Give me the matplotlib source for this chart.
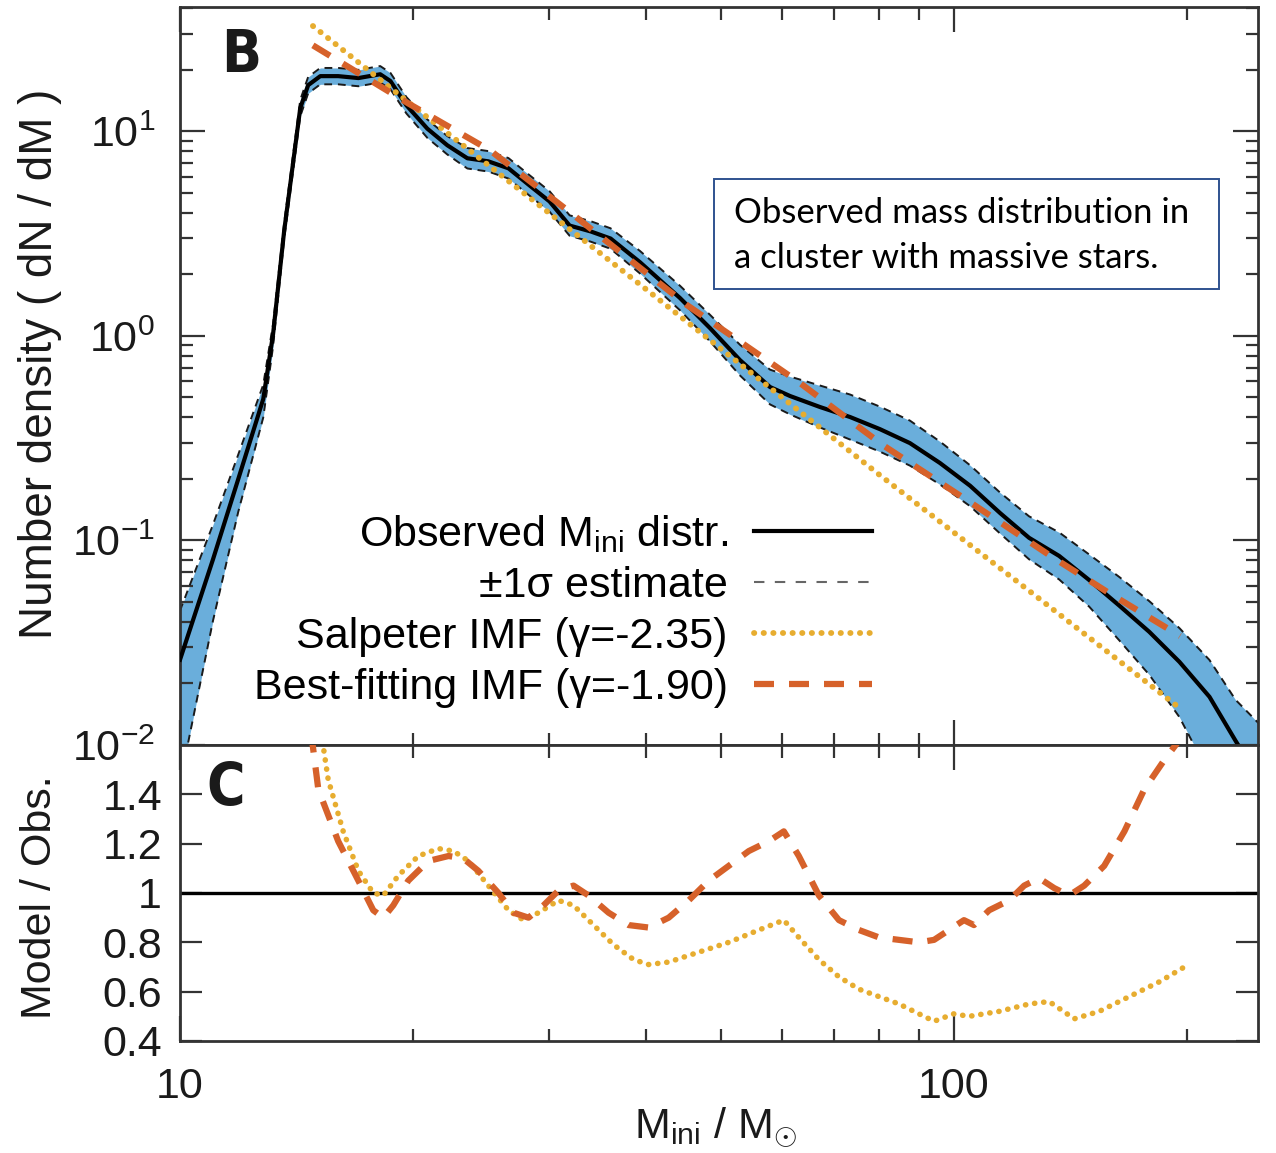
import numpy as np
import matplotlib
matplotlib.use("Agg")
import matplotlib.pyplot as plt
from matplotlib.ticker import LogLocator, NullFormatter, FixedLocator, FixedFormatter
from matplotlib.lines import Line2D
from matplotlib.patches import Rectangle

plt.rcParams['font.family'] = ['Liberation Sans', 'DejaVu Sans']
plt.rcParams['mathtext.fontset'] = 'custom'
plt.rcParams['mathtext.rm'] = 'Liberation Sans'
plt.rcParams['mathtext.it'] = 'Liberation Sans:italic'
plt.rcParams['mathtext.bf'] = 'Liberation Sans:bold'

# ---------------- data ----------------
mass_obs = [10.0, 11.03, 11.89, 12.81, 13.19, 13.63, 14.30, 14.64, 15.18, 16.01,
            17.00, 18.14, 18.70, 19.61, 20.87, 22.15, 23.51, 25.02, 26.57, 28.28,
            30.02, 31.87, 33.92, 36.00, 39.29, 44.26, 48.40, 52.90, 57.85, 61.40,
            67.10, 73.40, 80.20, 87.70, 95.90, 104.9, 114.7, 125.0, 136.7, 149.5,
            163.5, 178.8, 195.5, 213.8, 231.0, 248.0]
dens_obs = [0.0261, 0.0807, 0.199, 0.491, 1.02, 3.24, 12.97, 16.8, 18.6, 18.6,
            18.2, 19.0, 17.6, 13.4, 10.3, 8.54, 7.38, 7.13, 6.59, 5.44,
            4.54, 3.46, 3.24, 2.99, 2.29, 1.53, 1.09, 0.761, 0.562, 0.508,
            0.449, 0.401, 0.350, 0.299, 0.239, 0.185, 0.136, 0.103, 0.084, 0.064,
            0.048, 0.0357, 0.0255, 0.0172, 0.0105, 0.0068]
# +/- 1 sigma band, in dex above / below the observed curve
sig_up_dex = [0.24, 0.17, 0.12, 0.07, 0.05, 0.04, 0.04, 0.04, 0.04, 0.04,
              0.04, 0.04, 0.04, 0.04, 0.045, 0.045, 0.05, 0.05, 0.05, 0.05,
              0.05, 0.05, 0.05, 0.05, 0.055, 0.06, 0.065, 0.075, 0.085, 0.095,
              0.105, 0.11, 0.11, 0.11, 0.105, 0.10, 0.10, 0.105, 0.115, 0.125,
              0.14, 0.15, 0.165, 0.18, 0.20, 0.27]
sig_dn_dex = [0.60, 0.30, 0.16, 0.09, 0.06, 0.04, 0.04, 0.04, 0.04, 0.04,
              0.04, 0.04, 0.04, 0.04, 0.045, 0.045, 0.05, 0.05, 0.05, 0.05,
              0.05, 0.05, 0.05, 0.05, 0.055, 0.06, 0.065, 0.075, 0.085, 0.09,
              0.10, 0.11, 0.11, 0.11, 0.105, 0.10, 0.10, 0.105, 0.115, 0.13,
              0.17, 0.21, 0.27, 0.38, 0.60, 0.80]

mass_salp = [14.85, 20.0, 40.0, 80.0, 120.0, 195.5]
dens_salp = [32.7, 13.3, 1.69, 0.210, 0.0640, 0.0152]

mass_best = [14.85, 19.71, 25.15, 32.01, 45.19, 63.24, 80.96, 103.9, 133.9, 158.6, 195.9]
dens_best = [26.3, 13.7, 8.07, 3.98, 1.413, 0.588, 0.292, 0.1574, 0.0830, 0.0553, 0.0341]

mass_rat_best = [14.77, 15.09, 16.01, 17.00, 17.77, 18.31, 18.86, 19.72, 20.94, 22.23,
                 23.23, 24.29, 25.79, 26.97, 28.20, 29.49, 30.83, 32.24, 33.71, 35.79,
                 37.98, 40.31, 42.79, 45.42, 48.20, 51.16, 54.30, 57.64, 60.27, 63.02,
                 66.90, 71.01, 75.37, 79.98, 84.91, 90.10, 94.23, 98.52, 103.0, 106.1,
                 111.0, 117.8, 123.2, 128.8, 134.7, 140.8, 147.3, 156.3, 166.0, 176.1,
                 187.0, 195.5]
ratio_best = [1.65, 1.42, 1.21, 1.05, 0.93, 0.90, 0.95, 1.05, 1.13, 1.15,
              1.14, 1.09, 1.00, 0.92, 0.90, 0.95, 1.01, 1.03, 0.99, 0.92,
              0.87, 0.86, 0.90, 0.97, 1.05, 1.11, 1.17, 1.21, 1.25, 1.15,
              0.99, 0.89, 0.85, 0.82, 0.81, 0.80, 0.81, 0.85, 0.89, 0.87,
              0.93, 0.97, 1.03, 1.06, 1.02, 0.99, 1.03, 1.11, 1.25, 1.42,
              1.54, 1.62]

mass_rat_salp = [15.22, 15.54, 16.25, 17.00, 17.77, 18.31, 19.14, 20.32, 21.57, 22.56,
                 23.58, 25.02, 26.57, 27.78, 29.05, 30.83, 32.24, 34.22, 36.33, 38.55,
                 40.31, 42.79, 46.78, 51.16, 55.95, 60.27, 63.02, 66.90, 71.01, 75.37,
                 79.98, 84.91, 90.10, 94.23, 99.9, 104.6, 114.3, 125.0, 132.7, 143.0,
                 154.0, 168.4, 184.2, 198.4]
ratio_salp = [1.65, 1.46, 1.25, 1.09, 1.00, 0.99, 1.07, 1.15, 1.18, 1.17,
              1.13, 1.03, 0.93, 0.89, 0.92, 0.97, 0.95, 0.87, 0.79, 0.73,
              0.71, 0.72, 0.76, 0.80, 0.85, 0.89, 0.82, 0.73, 0.66, 0.61,
              0.58, 0.55, 0.51, 0.48, 0.51, 0.50, 0.52, 0.55, 0.56, 0.49,
              0.52, 0.58, 0.64, 0.70]

ratio_ticks = [0.4, 0.6, 0.8, 1.0, 1.2, 1.4]
ratio_ticklabels = ['0.4', '0.6', '0.8', '1', '1.2', '1.4']
x_ticks = [10, 100]
x_ticklabels = ['10', '100']

legend_labels = [r'Observed M$_{\rm ini}$ distr.', '±1σ estimate',
                 'Salpeter IMF (γ=-2.35)', 'Best-fitting IMF (γ=-1.90)']
note_lines = ['Observed mass distribution in', 'a cluster with massive stars.']

# ---------------- style ----------------
W, H = 1276, 1153
BLUE = '#6aaedb'
ORANGE = '#d6612a'
GOLD = '#e7ad30'
SPINE = '#333333'
TXT = '#1a1a1a'
FS = 31

fig = plt.figure(figsize=(W / 100, H / 100), dpi=100)

def fx(px):
    return px / W

def fy(py):
    return 1 - py / H

left, right = 180, 1258
top, mid, bot = 7, 745, 1041
ax1 = fig.add_axes([fx(left), fy(mid), fx(right) - fx(left), fy(top) - fy(mid)])
ax2 = fig.add_axes([fx(left), fy(bot), fx(right) - fx(left), fy(mid) - fy(bot)], sharex=ax1)

mo = np.array(mass_obs)
do = np.array(dens_obs)
hi = do * 10 ** np.array(sig_up_dex)
lo = do * 10 ** (-np.array(sig_dn_dex))

ax1.fill_between(mo, lo, hi, color=BLUE, lw=0, zorder=1)
ax1.plot(mo, hi, color='#1a1a1a', lw=1.4, ls=(0, (4, 3)), zorder=2)
ax1.plot(mo, lo, color='#1a1a1a', lw=1.4, ls=(0, (4, 3)), zorder=2)
ax1.plot(mo, do, color='black', lw=3.0, zorder=3)
ax1.plot(mass_salp, dens_salp, color=GOLD, lw=4.2, ls=(0, (0.05, 1.6)),
         dash_capstyle='round', zorder=4)
ax1.plot(mass_best, dens_best, color=ORANGE, lw=4.5, ls=(0, (3.2, 2.4)), zorder=5)

ax1.set_xscale('log')
ax1.set_yscale('log')
ax1.set_xlim(10, 247)
ax1.set_ylim(0.01, 40.5)

ax2.axhline(1.0, color='black', lw=2.4, zorder=2)
ax2.plot(mass_rat_salp, ratio_salp, color=GOLD, lw=4.0, ls=(0, (0.05, 1.6)),
         dash_capstyle='round', zorder=3)
ax2.plot(mass_rat_best, ratio_best, color=ORANGE, lw=4.5, ls=(0, (3.2, 2.4)), zorder=4)
ax2.set_ylim(0.4, 1.6)

for ax in (ax1, ax2):
    for s in ax.spines.values():
        s.set_linewidth(2.0)
        s.set_color(SPINE)
    ax.tick_params(which='both', direction='in', top=True, right=True,
                   color=SPINE, width=1.6, labelsize=FS, labelcolor=TXT, pad=20)
    ax.tick_params(which='major', length=18)
    ax.tick_params(which='minor', length=9)

ax1.yaxis.set_major_locator(LogLocator(base=10, numticks=10))
ax1.yaxis.set_minor_locator(LogLocator(base=10, subs=np.arange(2, 10), numticks=20))
ax1.yaxis.set_minor_formatter(NullFormatter())
ax1.xaxis.set_minor_locator(LogLocator(base=10, subs=np.arange(2, 10), numticks=20))
ax1.tick_params(axis='x', labelbottom=False)
ax1.tick_params(axis='y', pad=18)

ax2.xaxis.set_major_locator(FixedLocator(x_ticks))
ax2.xaxis.set_major_formatter(FixedFormatter(x_ticklabels))
ax2.xaxis.set_minor_formatter(NullFormatter())
ax2.yaxis.set_major_locator(FixedLocator(ratio_ticks))
ax2.yaxis.set_major_formatter(FixedFormatter(ratio_ticklabels))
ax2.tick_params(axis='y', which='major', length=16, pad=13)
ax2.tick_params(axis='x', pad=19)

fig.text(fx(40), fy(364), 'Number density ( dN / dM )', rotation=90,
         ha='center', va='center', fontsize=33, color=TXT)
fig.text(fx(40), fy(897), 'Model / Obs.', rotation=90,
         ha='center', va='center', fontsize=31, color=TXT)
fig.text(fx(716), fy(1128), r'M$_{\rm ini}$ / M$_{\odot}$', ha='center', va='center',
         fontsize=31, color=TXT)

fig.text(fx(241), fy(56), 'B', ha='center', va='center', fontsize=42,
         fontweight='heavy', fontstretch='condensed',
         family=['DejaVu Sans'], color=TXT)
fig.text(fx(226), fy(789), 'C', ha='center', va='center', fontsize=42,
         fontweight='heavy', fontstretch='condensed',
         family=['DejaVu Sans'], color=TXT)

handles = [Line2D([], [], color='black', lw=3.0),
           Line2D([], [], color='#666666', lw=1.5, ls=(0, (5, 5))),
           Line2D([], [], color=GOLD, lw=4.2, ls=(0, (0.05, 1.6)), dash_capstyle='round'),
           Line2D([], [], color=ORANGE, lw=4.5, ls=(0, (3.2, 2.4)))]
ax1.legend(handles, legend_labels, loc='upper right', markerfirst=False, frameon=False,
           fontsize=31, handlelength=2.75, handletextpad=0.6, labelspacing=0.26,
           borderpad=0, borderaxespad=0,
           bbox_to_anchor=(fx(872), fy(513)), bbox_transform=fig.transFigure)

fig.patches.append(Rectangle((fx(714), fy(289)), fx(1219) - fx(714), fy(179) - fy(289),
                             transform=fig.transFigure, fill=False, edgecolor='#2f528f',
                             lw=1.4))
fig.text(fx(734), fy(223), note_lines[0], ha='left', va='baseline', fontsize=25,
         family=['Lato', 'DejaVu Sans'], color='black')
fig.text(fx(734), fy(268), note_lines[1], ha='left', va='baseline', fontsize=25,
         family=['Lato', 'DejaVu Sans'], color='black')

fig.savefig('out.png', dpi=100)
